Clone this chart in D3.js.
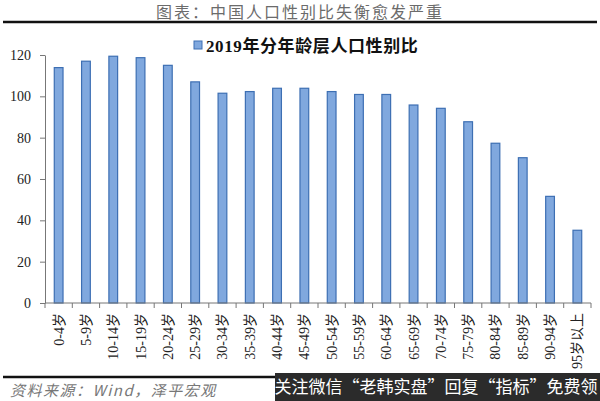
<!DOCTYPE html>
<html>
<head>
<meta charset="utf-8">
<script src="https://cdn.jsdelivr.net/npm/d3@7"></script>
<style>
  html, body { margin: 0; padding: 0; background: #fff; }
  svg { display: block; }
</style>
</head>
<body>
<div id="chart"></div>
<script>
const categories = ["0-4岁", "5-9岁", "10-14岁", "15-19岁", "20-24岁", "25-29岁", "30-34岁",
  "35-39岁", "40-44岁", "45-49岁", "50-54岁", "55-59岁", "60-64岁", "65-69岁", "70-74岁",
  "75-79岁", "80-84岁", "85-89岁", "90-94岁", "95岁以上"];
const sexRatio = [113.9, 117.0, 119.4, 118.7, 115.0, 107.0, 101.5, 102.3, 103.9, 103.9,
  102.3, 100.9, 100.9, 95.8, 94.2, 87.7, 77.3, 70.3, 51.6, 35.2];
const yTicks = [0, 20, 40, 60, 80, 100, 120];
const seriesName = "2019年分年龄层人口性别比";
const chartTitle = "图表：中国人口性别比失衡愈发严重";
const sourceText = "资料来源：Wind，泽平宏观";
const bannerText = "关注微信“老韩实盘”回复“指标”免费领";

const size = { width: 600, height: 401 };
const margin = { top: 55, right: 9, bottom: 98, left: 45 };
const serif = "'Liberation Serif', 'Times New Roman', 'Noto Sans CJK SC', serif";
const cjk = "'Noto Sans CJK SC', sans-serif";

const svg = d3.select("#chart")
  .append("svg")
  .attr("width", size.width)
  .attr("height", size.height);

// title + rule
svg.append("text")
  .attr("x", 300)
  .attr("y", 18)
  .attr("text-anchor", "middle")
  .attr("font-family", cjk)
  .attr("font-size", 16)
  .attr("letter-spacing", 2)
  .attr("fill", "#6b6b6b")
  .text(chartTitle);

svg.append("line")
  .attr("x1", 3).attr("x2", 597)
  .attr("y1", 22).attr("y2", 22)
  .attr("stroke", "#111").attr("stroke-width", 2.5);

const xScale = d3.scaleBand()
  .domain(categories)
  .range([margin.left, size.width - margin.right])
  .paddingInner(0.68)
  .paddingOuter(0.34);

const yScale = d3.scaleLinear()
  .domain([0, 120])
  .range([size.height - margin.bottom, margin.top]);

const baseY = yScale(0);

// y axis
const yAxis = d3.axisLeft(yScale)
  .tickValues(yTicks)
  .tickSize(5)
  .tickPadding(9)
  .tickSizeOuter(0);

const yg = svg.append("g")
  .attr("transform", `translate(${margin.left},0)`)
  .call(yAxis);
yg.select(".domain").attr("stroke", "#777");
yg.selectAll(".tick line").attr("stroke", "#777");
yg.selectAll("text")
  .attr("font-family", serif)
  .attr("font-size", 14)
  .attr("fill", "#222");

// bars
svg.selectAll(".bar")
  .data(sexRatio)
  .enter().append("rect")
  .attr("class", "bar")
  .attr("x", (d, i) => xScale(categories[i]))
  .attr("y", d => yScale(d))
  .attr("width", xScale.bandwidth())
  .attr("height", d => baseY - yScale(d))
  .attr("fill", "#80a8de")
  .attr("stroke", "#3d6fb3")
  .attr("stroke-width", 1.2);

// x axis: line + ticks at category boundaries
const step = xScale.step();
const x0 = xScale(categories[0]) - xScale.paddingOuter() * step;
svg.append("line")
  .attr("x1", margin.left).attr("x2", size.width - margin.right)
  .attr("y1", baseY).attr("y2", baseY)
  .attr("stroke", "#777");

svg.selectAll(".xtick")
  .data(d3.range(categories.length + 1))
  .enter().append("line")
  .attr("class", "xtick")
  .attr("x1", i => x0 + i * step).attr("x2", i => x0 + i * step)
  .attr("y1", baseY).attr("y2", baseY + 5)
  .attr("stroke", "#777");

svg.selectAll(".xlabel")
  .data(categories)
  .enter().append("text")
  .attr("class", "xlabel")
  .attr("text-anchor", "end")
  .attr("font-family", serif)
  .attr("font-size", 14)
  .attr("fill", "#222")
  .attr("transform", d => `translate(${xScale(d) + xScale.bandwidth() / 2 + 5},${baseY + 10}) rotate(-90)`)
  .text(d => d);

// legend
svg.append("rect")
  .attr("x", 194).attr("y", 41)
  .attr("width", 8).attr("height", 8)
  .attr("fill", "#80a8de")
  .attr("stroke", "#3d6fb3");

svg.append("text")
  .attr("x", 206)
  .attr("y", 52)
  .attr("font-family", serif)
  .attr("font-weight", "bold")
  .attr("font-size", 17)
  .attr("letter-spacing", 0.6)
  .attr("fill", "#111")
  .text(seriesName);

// footer
svg.append("line")
  .attr("x1", 3).attr("x2", 597)
  .attr("y1", 377).attr("y2", 377)
  .attr("stroke", "#111").attr("stroke-width", 2.5);

svg.append("text")
  .attr("x", 10)
  .attr("y", 396)
  .attr("font-family", cjk)
  .attr("font-style", "italic")
  .attr("font-size", 15)
  .attr("letter-spacing", 1.5)
  .attr("fill", "#777")
  .text(sourceText);

svg.append("rect")
  .attr("x", 275).attr("y", 373)
  .attr("width", 325).attr("height", 28)
  .attr("fill", "#2b2b2b");

svg.append("text")
  .attr("x", 436)
  .attr("y", 393)
  .attr("text-anchor", "middle")
  .attr("font-family", cjk)
  .attr("font-size", 17)
  .attr("fill", "#fff")
  .text(bannerText);
</script>
</body>
</html>
